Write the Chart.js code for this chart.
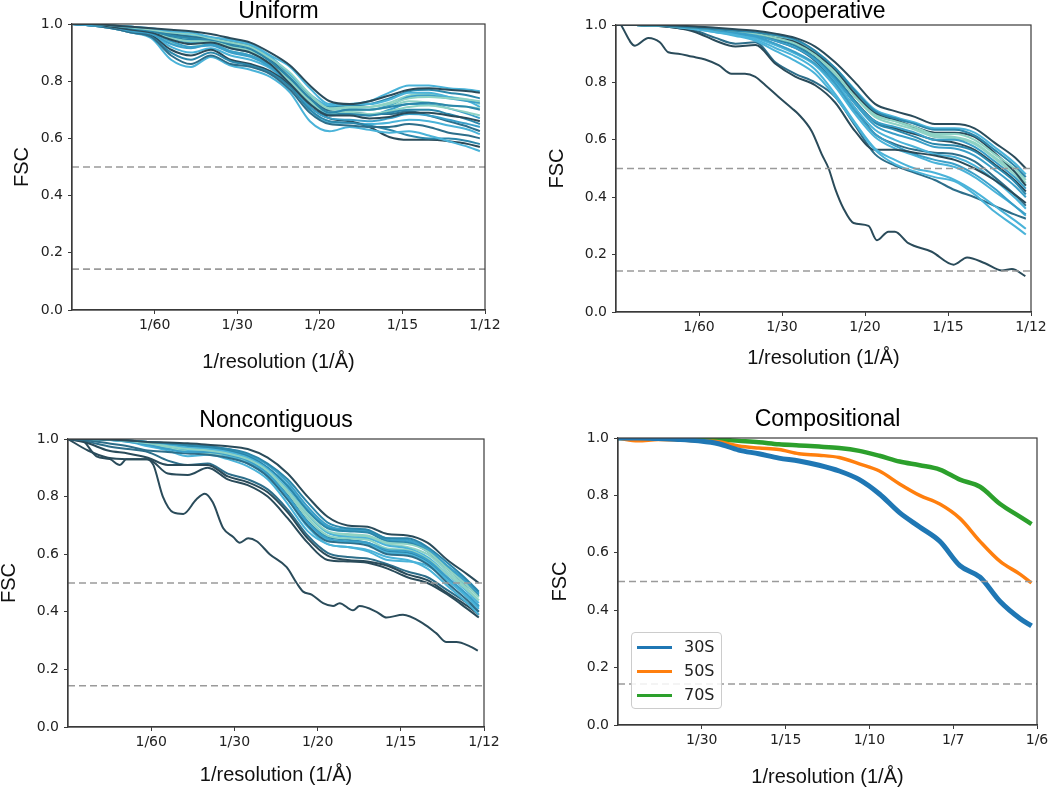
<!DOCTYPE html>
<html>
<head>
<meta charset="utf-8">
<script src="https://cdn.jsdelivr.net/npm/chart.js@4.4.1/dist/chart.umd.min.js"></script>
<style>
  body { margin: 0; background: #fff; width: 1050px; height: 789px; overflow: hidden; position: relative; }
  .panel { position: absolute; }
  .legend { position: absolute; left: 631px; top: 632px; width: 89px; height: 75px; border: 1px solid #ccc; border-radius: 4px; background: rgba(255,255,255,0.85); font-family: "DejaVu Sans", sans-serif; font-size: 16px; color: #222; }
  .legend div { position: absolute; left: 0; height: 24px; line-height: 24px; width: 100%; }
  .legend span.sw { position: absolute; left: 5px; top: 11px; width: 35px; height: 3px; }
  .legend span.lb { position: absolute; left: 52px; top: 0; }
</style>
</head>
<body>
<div class="panel" style="left:0;top:0"><canvas id="uniform" width="525" height="395"></canvas></div>
<div class="panel" style="left:525px;top:0"><canvas id="cooperative" width="525" height="395"></canvas></div>
<div class="panel" style="left:-10px;top:395px"><canvas id="noncontig" width="535" height="394"></canvas></div>
<div class="panel" style="left:525px;top:395px"><canvas id="compositional" width="545" height="394"></canvas></div>
<div class="legend" id="legend"></div>

<script>
// x positions (1/Å) shared by the curves of the first three panels
const xGrid = [0, 0.004, 0.008, 0.012, 0.016, 0.020, 0.024, 0.028, 0.032, 0.036, 0.040,
  0.044, 0.048, 0.052, 0.056, 0.060, 0.064, 0.068, 0.072, 0.076, 0.080, 0.0823];

const thresholds = [0.5, 0.143];

const ticks12 = [1/60, 1/30, 1/20, 1/15, 1/12];
const labels12 = ["1/60", "1/30", "1/20", "1/15", "1/12"];
const ticks6 = [1/30, 2/30, 3/30, 4/30, 5/30];
const labels6 = ["1/30", "1/15", "1/10", "1/7", "1/6"];

const palette = ["#2a4b5a", "#2d6e8a", "#2b87ab", "#3a9fc8", "#4ab3d9", "#8ed2c4"];

const uniformFsc = [
  [1,1,0.995,0.99,0.985,0.98,0.975,0.965,0.95,0.935,0.90,0.855,0.785,0.73,0.72,0.73,0.75,0.77,0.775,0.77,0.765,0.76],
  [1,1,0.995,0.99,0.985,0.975,0.97,0.955,0.945,0.93,0.89,0.85,0.775,0.72,0.72,0.73,0.76,0.785,0.785,0.775,0.77,0.765],
  [1,1,0.995,0.988,0.98,0.97,0.965,0.95,0.935,0.92,0.88,0.83,0.755,0.705,0.71,0.71,0.72,0.74,0.745,0.74,0.735,0.73],
  [1,1,0.995,0.985,0.975,0.96,0.95,0.945,0.93,0.915,0.87,0.81,0.74,0.69,0.70,0.70,0.71,0.72,0.725,0.715,0.71,0.70],
  [1,1,0.99,0.98,0.97,0.945,0.93,0.935,0.915,0.90,0.86,0.79,0.72,0.68,0.68,0.67,0.675,0.69,0.69,0.68,0.67,0.66],
  [1,0.995,0.99,0.975,0.965,0.93,0.915,0.93,0.905,0.89,0.855,0.79,0.71,0.67,0.665,0.66,0.67,0.685,0.68,0.665,0.65,0.64],
  [1,1,0.99,0.98,0.97,0.95,0.94,0.94,0.92,0.905,0.86,0.80,0.73,0.69,0.695,0.70,0.71,0.73,0.725,0.715,0.71,0.705],
  [1,0.995,0.985,0.97,0.955,0.89,0.86,0.89,0.86,0.85,0.825,0.77,0.69,0.65,0.645,0.64,0.64,0.65,0.64,0.62,0.61,0.60],
  [1,0.995,0.985,0.97,0.95,0.875,0.85,0.885,0.855,0.84,0.815,0.76,0.66,0.625,0.64,0.63,0.62,0.625,0.61,0.59,0.57,0.555],
  [1,0.995,0.985,0.97,0.955,0.90,0.875,0.90,0.87,0.855,0.83,0.78,0.70,0.66,0.655,0.645,0.63,0.61,0.60,0.60,0.59,0.58],
  [1,0.995,0.99,0.975,0.96,0.91,0.89,0.91,0.875,0.86,0.835,0.785,0.71,0.67,0.66,0.64,0.605,0.595,0.595,0.59,0.58,0.57],
  [1,1,0.99,0.98,0.97,0.94,0.92,0.925,0.90,0.885,0.85,0.79,0.72,0.69,0.70,0.70,0.715,0.745,0.75,0.74,0.73,0.725],
  [1,1,0.993,0.985,0.975,0.955,0.945,0.945,0.925,0.91,0.87,0.80,0.73,0.685,0.685,0.68,0.69,0.70,0.70,0.685,0.665,0.65],
  [1,1,0.993,0.983,0.97,0.935,0.92,0.93,0.905,0.89,0.855,0.79,0.72,0.685,0.69,0.685,0.695,0.71,0.715,0.705,0.69,0.68],
  [1,1,0.995,0.987,0.978,0.965,0.955,0.95,0.935,0.92,0.875,0.81,0.74,0.695,0.69,0.685,0.685,0.695,0.68,0.66,0.64,0.625],
  [1,1,0.995,0.99,0.98,0.97,0.96,0.95,0.94,0.925,0.885,0.825,0.755,0.715,0.72,0.72,0.735,0.76,0.76,0.745,0.73,0.71],
  [1,1,0.995,0.988,0.978,0.96,0.95,0.948,0.93,0.915,0.875,0.815,0.745,0.70,0.705,0.71,0.725,0.75,0.755,0.745,0.735,0.72],
  [1,1,0.993,0.985,0.973,0.95,0.935,0.94,0.915,0.90,0.86,0.80,0.725,0.68,0.685,0.68,0.70,0.72,0.72,0.705,0.685,0.67],
  [1,0.995,0.99,0.978,0.965,0.92,0.90,0.915,0.89,0.875,0.845,0.785,0.70,0.655,0.655,0.65,0.655,0.665,0.66,0.645,0.63,0.615],
  [1,1,0.995,0.99,0.982,0.968,0.96,0.952,0.94,0.925,0.885,0.82,0.75,0.71,0.715,0.72,0.74,0.765,0.77,0.76,0.75,0.74]
];
const uniformColors = [0,4,5,2,0,3,5,1,4,2,0,3,2,5,1,4,5,3,4,2];

const cooperativeFsc = [
  [1,1,1,0.998,0.995,0.99,0.985,0.98,0.97,0.955,0.925,0.87,0.80,0.725,0.70,0.68,0.655,0.655,0.64,0.59,0.54,0.50],
  [1,1,0.998,0.995,0.99,0.985,0.98,0.975,0.965,0.95,0.91,0.85,0.77,0.70,0.675,0.655,0.635,0.635,0.615,0.565,0.51,0.47],
  [1,1,0.998,0.995,0.99,0.985,0.98,0.97,0.955,0.935,0.895,0.83,0.75,0.685,0.665,0.645,0.62,0.62,0.60,0.55,0.50,0.46],
  [1,1,0.998,0.995,0.99,0.985,0.975,0.965,0.945,0.92,0.88,0.81,0.73,0.665,0.645,0.625,0.60,0.60,0.575,0.525,0.47,0.43],
  [1,1,0.998,0.995,0.99,0.985,0.978,0.97,0.955,0.94,0.90,0.845,0.76,0.695,0.67,0.645,0.625,0.625,0.61,0.555,0.49,0.44],
  [1,1,0.998,0.993,0.985,0.975,0.965,0.95,0.92,0.89,0.845,0.76,0.66,0.57,0.53,0.50,0.485,0.46,0.42,0.37,0.32,0.29],
  [1,1,0.998,0.993,0.985,0.975,0.962,0.945,0.91,0.875,0.83,0.75,0.655,0.565,0.515,0.49,0.47,0.455,0.41,0.35,0.30,0.27],
  [1,1,0.997,0.99,0.975,0.945,0.925,0.93,0.865,0.82,0.79,0.73,0.63,0.565,0.565,0.555,0.545,0.53,0.50,0.46,0.41,0.38],
  [1,1,0.997,0.99,0.98,0.955,0.935,0.94,0.87,0.83,0.80,0.75,0.65,0.55,0.51,0.485,0.46,0.425,0.40,0.37,0.34,0.325],
  [1,1,0.998,0.994,0.988,0.98,0.97,0.96,0.935,0.905,0.865,0.795,0.70,0.62,0.58,0.55,0.53,0.515,0.48,0.43,0.37,0.34],
  [1,1,0.998,0.995,0.99,0.983,0.975,0.965,0.95,0.93,0.885,0.82,0.735,0.66,0.635,0.61,0.585,0.58,0.56,0.51,0.455,0.41],
  [1,1,0.998,0.995,0.99,0.984,0.977,0.968,0.95,0.93,0.885,0.82,0.735,0.665,0.64,0.62,0.60,0.59,0.565,0.515,0.46,0.42],
  [1,1,0.998,0.995,0.99,0.985,0.98,0.97,0.958,0.94,0.90,0.84,0.76,0.69,0.665,0.64,0.615,0.61,0.59,0.54,0.49,0.45],
  [1,1,0.998,0.995,0.99,0.985,0.978,0.968,0.95,0.925,0.88,0.805,0.71,0.635,0.60,0.575,0.55,0.54,0.51,0.46,0.40,0.36],
  [1,1,0.998,0.995,0.99,0.984,0.976,0.965,0.945,0.92,0.875,0.80,0.71,0.62,0.585,0.565,0.555,0.55,0.525,0.47,0.41,0.37],
  [1,1,0.998,0.995,0.99,0.985,0.979,0.97,0.955,0.935,0.895,0.83,0.75,0.68,0.655,0.635,0.61,0.605,0.585,0.535,0.48,0.44],
  [1,1,0.998,0.995,0.99,0.985,0.977,0.967,0.948,0.925,0.885,0.815,0.725,0.65,0.62,0.60,0.575,0.57,0.545,0.495,0.44,0.40],
  [1,1,0.998,0.995,0.99,0.986,0.98,0.972,0.96,0.945,0.905,0.85,0.775,0.705,0.68,0.66,0.64,0.64,0.625,0.575,0.52,0.48],
  [1,1,0.998,0.994,0.987,0.978,0.968,0.955,0.93,0.90,0.86,0.785,0.69,0.61,0.57,0.545,0.52,0.505,0.47,0.42,0.37,0.335]
];
const cooperativeColors = [0,2,5,3,0,4,4,0,1,3,2,0,5,4,1,5,3,4,4];

const coopOutlierX = [0.001,0.0038,0.0065,0.0088,0.0105,0.0125,0.0152,0.0179,0.0206,0.0232,0.0259,0.0279,0.030,0.0326,
  0.0353,0.0366,0.0393,0.0413,0.0427,0.044,0.0457,0.0477,0.0507,0.0524,0.0547,0.056,0.0587,0.0634,0.0678,0.0705,0.0741,0.0775,0.0795,0.0822];
const coopOutlierY = [1,0.928,0.955,0.94,0.905,0.90,0.89,0.88,0.86,0.83,0.83,0.82,0.79,0.75,
  0.71,0.69,0.63,0.55,0.50,0.43,0.36,0.31,0.30,0.25,0.28,0.28,0.24,0.21,0.165,0.19,0.17,0.145,0.15,0.125];

const noncontigFsc = [
  [1,1,0.998,0.995,0.99,0.988,0.985,0.98,0.975,0.965,0.935,0.88,0.80,0.73,0.70,0.695,0.67,0.665,0.64,0.58,0.53,0.50],
  [1,1,0.998,0.995,0.99,0.985,0.98,0.975,0.965,0.95,0.915,0.86,0.78,0.71,0.69,0.685,0.655,0.655,0.625,0.57,0.51,0.47],
  [1,1,0.997,0.993,0.985,0.975,0.965,0.96,0.95,0.93,0.89,0.82,0.74,0.68,0.67,0.665,0.64,0.635,0.61,0.55,0.49,0.45],
  [1,1,0.997,0.99,0.98,0.965,0.955,0.955,0.945,0.925,0.88,0.80,0.71,0.655,0.645,0.64,0.615,0.61,0.58,0.52,0.46,0.42],
  [1,0.995,0.985,0.975,0.96,0.955,0.95,0.945,0.935,0.915,0.87,0.79,0.70,0.645,0.64,0.63,0.60,0.595,0.565,0.50,0.44,0.40],
  [1,1,0.997,0.99,0.975,0.96,0.94,0.945,0.93,0.905,0.86,0.775,0.68,0.635,0.625,0.615,0.59,0.58,0.55,0.49,0.43,0.39],
  [1,0.96,0.935,0.93,0.93,0.88,0.875,0.90,0.86,0.84,0.80,0.725,0.64,0.58,0.575,0.57,0.55,0.52,0.50,0.46,0.41,0.38],
  [1,0.985,0.96,0.95,0.935,0.91,0.91,0.91,0.87,0.85,0.815,0.745,0.655,0.595,0.58,0.575,0.56,0.53,0.51,0.465,0.42,0.39],
  [1,0.99,0.975,0.965,0.955,0.925,0.91,0.915,0.88,0.86,0.825,0.755,0.665,0.605,0.59,0.585,0.565,0.54,0.52,0.475,0.43,0.40],
  [1,1,0.997,0.993,0.985,0.97,0.955,0.95,0.945,0.925,0.885,0.815,0.725,0.665,0.655,0.65,0.62,0.615,0.585,0.53,0.475,0.44],
  [1,1,0.998,0.994,0.988,0.978,0.97,0.965,0.955,0.935,0.895,0.825,0.74,0.675,0.66,0.655,0.63,0.62,0.59,0.53,0.47,0.43],
  [1,1,0.998,0.995,0.99,0.983,0.975,0.97,0.96,0.94,0.90,0.835,0.75,0.69,0.68,0.675,0.645,0.64,0.61,0.55,0.49,0.455],
  [1,1,0.998,0.995,0.99,0.985,0.98,0.975,0.965,0.945,0.91,0.85,0.765,0.70,0.685,0.68,0.655,0.65,0.62,0.56,0.505,0.465],
  [1,1,0.997,0.992,0.983,0.97,0.96,0.955,0.94,0.915,0.87,0.79,0.695,0.635,0.625,0.61,0.58,0.575,0.56,0.51,0.45,0.41],
  [1,1,0.998,0.994,0.987,0.978,0.968,0.963,0.952,0.932,0.89,0.82,0.735,0.675,0.665,0.66,0.635,0.625,0.60,0.54,0.48,0.44],
  [1,1,0.997,0.992,0.982,0.968,0.958,0.955,0.943,0.92,0.875,0.80,0.71,0.65,0.64,0.635,0.605,0.60,0.57,0.51,0.455,0.415],
  [1,1,0.998,0.995,0.989,0.98,0.972,0.968,0.958,0.94,0.90,0.84,0.755,0.695,0.685,0.68,0.65,0.645,0.615,0.555,0.50,0.46],
  [1,1,0.997,0.993,0.984,0.972,0.962,0.958,0.946,0.925,0.88,0.805,0.715,0.66,0.65,0.64,0.61,0.605,0.575,0.515,0.455,0.42]
];
const noncontigColors = [0,2,5,3,1,4,0,0,1,5,4,2,3,4,5,4,3,2];

const noncontigOutlierX = [0,0.0024,0.0057,0.0084,0.0104,0.0117,0.0157,0.0171,0.019,0.0211,0.0231,0.0257,0.0274,0.029,
  0.0311,0.0331,0.0344,0.0361,0.0378,0.0404,0.0438,0.0458,0.0471,0.0488,0.0511,0.0531,0.0544,0.0571,0.0584,0.0618,
  0.0638,0.0671,0.0711,0.0738,0.0758,0.0778,0.0805,0.0821];
const noncontigOutlierY = [1,1,0.94,0.93,0.91,0.93,0.93,0.91,0.80,0.745,0.74,0.79,0.81,0.78,
  0.69,0.66,0.64,0.655,0.645,0.60,0.555,0.50,0.47,0.46,0.43,0.42,0.43,0.405,0.42,0.40,
  0.38,0.39,0.36,0.325,0.295,0.295,0.28,0.265];

// compositional panel
const compX = [0,0.008,0.016,0.024,0.032,0.040,0.048,0.056,0.064,0.072,0.080,0.088,0.096,0.104,
  0.112,0.120,0.128,0.136,0.144,0.152,0.160,0.1645];
const fsc30S = [1,1,0.998,0.995,0.99,0.98,0.958,0.945,0.93,0.92,0.905,0.885,0.855,0.805,
  0.74,0.69,0.64,0.555,0.515,0.43,0.37,0.345];
const fsc50S = [1,0.99,0.995,0.993,0.99,0.987,0.972,0.965,0.96,0.945,0.94,0.932,0.91,0.885,
  0.84,0.80,0.77,0.72,0.64,0.57,0.525,0.495];
const fsc70S = [1,1,1,1,0.998,0.995,0.99,0.985,0.978,0.974,0.97,0.965,0.955,0.938,
  0.918,0.905,0.89,0.855,0.83,0.77,0.725,0.70];
const compNames = ["30S", "50S", "70S"];
const compColors = ["#1f77b4", "#ff7f0e", "#2ca02c"];
const compWidths = [5, 3.5, 4.5];

const frame = {
  id: "frame",
  afterDatasetsDraw(chart) {
    const { ctx, chartArea: a } = chart;
    ctx.save();
    ctx.strokeStyle = "#3a3a3a";
    ctx.lineWidth = 1.2;
    ctx.strokeRect(a.left, a.top, a.right - a.left, a.bottom - a.top);
    ctx.restore();
  }
};

function curve(xs, ys, color, width) {
  return {
    data: xs.map((x, i) => ({ x: x, y: ys[i] })),
    borderColor: color,
    borderWidth: width,
    pointRadius: 0,
    fill: false,
    cubicInterpolationMode: "monotone"
  };
}

function dashed(y, xMax) {
  return {
    data: [{ x: 0, y: y }, { x: xMax, y: y }],
    borderColor: "#9a9a9a",
    borderWidth: 1.6,
    borderDash: [7, 4],
    pointRadius: 0,
    fill: false,
    order: -1
  };
}

function makePanel(id, cfg) {
  const datasets = cfg.datasets.concat(thresholds.map(t => dashed(t, cfg.xMax)));
  return new Chart(document.getElementById(id), {
    type: "line",
    data: { datasets: datasets },
    options: {
      responsive: false,
      animation: false,
      events: [],
      layout: { padding: { left: 0, right: cfg.padR, top: 0, bottom: 0 } },
      plugins: {
        legend: { display: false },
        tooltip: { enabled: false },
        title: {
          display: true,
          text: cfg.title,
          fullSize: false,
          color: "#000",
          font: { family: "Liberation Sans", size: 23, weight: "normal", lineHeight: 1 },
          padding: { top: cfg.tTop, bottom: cfg.tBot }
        }
      },
      scales: {
        x: {
          type: "linear",
          min: 0,
          max: cfg.xMax,
          afterBuildTicks: s => { s.ticks = cfg.ticks.map(v => ({ value: v })); },
          afterFit: s => { s.height = cfg.xH; },
          ticks: {
            autoSkip: false,
            maxRotation: 0,
            padding: 3,
            color: "#222",
            font: { family: "DejaVu Sans", size: 14 },
            callback: (v, i) => cfg.labels[i]
          },
          grid: { display: true, drawOnChartArea: false, drawTicks: true, tickLength: 4, color: "#3a3a3a" },
          border: { color: "#3a3a3a", width: 1.2 },
          title: {
            display: true,
            text: "1/resolution (1/Å)",
            color: "#111",
            font: { family: "Liberation Sans", size: 20 },
            padding: { top: 0, bottom: cfg.xtBot }
          }
        },
        y: {
          min: 0,
          max: 1,
          afterFit: s => { s.width = cfg.yW; },
          ticks: {
            stepSize: 0.2,
            padding: 5,
            color: "#222",
            font: { family: "DejaVu Sans", size: 14 },
            callback: v => v.toFixed(1)
          },
          grid: { display: true, drawOnChartArea: false, drawTicks: true, tickLength: 4, color: "#3a3a3a" },
          border: { color: "#3a3a3a", width: 1.2 },
          title: {
            display: true,
            text: "FSC",
            color: "#111",
            font: { family: "Liberation Sans", size: 20 },
            padding: { top: cfg.ytTop, bottom: 0 }
          }
        }
      }
    },
    plugins: [frame]
  });
}

const W = 2;

makePanel("uniform", {
  title: "Uniform", xMax: 1/12, ticks: ticks12, labels: labels12,
  padR: 40, yW: 72, xH: 85, tTop: 0, tBot: 1, xtBot: 21, ytTop: 10,
  datasets: uniformFsc.map((ys, i) => curve(xGrid, ys, palette[uniformColors[i]], W))
});

makePanel("cooperative", {
  title: "Cooperative", xMax: 1/12, ticks: ticks12, labels: labels12,
  padR: 19, yW: 91, xH: 83, tTop: 0, tBot: 2, xtBot: 25, ytTop: 20,
  datasets: cooperativeFsc.map((ys, i) => curve(xGrid, ys, palette[cooperativeColors[i]], W))
    .concat([curve(coopOutlierX, coopOutlierY, palette[0], W)])
});

makePanel("noncontig", {
  title: "Noncontiguous", xMax: 1/12, ticks: ticks12, labels: labels12,
  padR: 41, yW: 78, xH: 62, tTop: 14, tBot: 7, xtBot: 2, ytTop: 7,
  datasets: noncontigFsc.map((ys, i) => curve(xGrid, ys, palette[noncontigColors[i]], W))
    .concat([curve(noncontigOutlierX, noncontigOutlierY, palette[0], W)])
});

makePanel("compositional", {
  title: "Compositional", xMax: 1/6, ticks: ticks6, labels: labels6,
  padR: 33, yW: 93, xH: 64, tTop: 13, tBot: 7, xtBot: 0, ytTop: 23,
  datasets: [fsc30S, fsc50S, fsc70S].map((ys, i) => curve(compX, ys, compColors[i], compWidths[i]))
});

// legend for the compositional panel
const legend = document.getElementById("legend");
compNames.forEach((name, i) => {
  const row = document.createElement("div");
  row.style.top = (2 + i * 24) + "px";
  row.innerHTML = '<span class="sw" style="background:' + compColors[i] + '"></span><span class="lb">' + name + '</span>';
  legend.appendChild(row);
});
</script>
</body>
</html>
